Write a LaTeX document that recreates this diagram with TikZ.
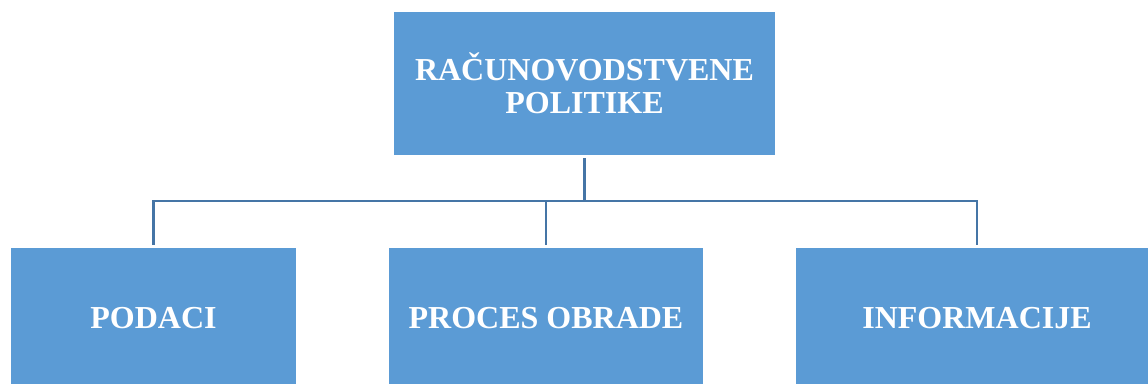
\documentclass[tikz,border=0pt]{standalone}
\usepackage{fontspec}
\setmainfont{Liberation Serif}
\definecolor{boxblue}{HTML}{5B9BD5}
\definecolor{lineblue}{HTML}{4575A6}
\begin{document}
\begin{tikzpicture}[x=1pt,y=-1pt,
  box/.style={fill=boxblue,draw=none,text=white,font=\fontsize{32}{33}\selectfont\bfseries,align=center,inner sep=0pt},
  conn/.style={draw=lineblue,line width=2.2pt}]
\useasboundingbox (0,0) rectangle (1148,383);
\clip (0,0) rectangle (1148,383);
\node[box,minimum width=381pt,minimum height=143pt] (top) at (584.5,83.5) {RAČUNOVODSTVENE\\POLITIKE};
\node[box,minimum width=285pt,minimum height=140pt] (l) at (153.5,318) {PODACI};
\node[box,minimum width=314pt,minimum height=140pt] (m) at (546,318) {PROCES OBRADE};
\node[box,minimum width=362pt,minimum height=140pt] (r) at (977,318) {INFORMACIJE};
\coordinate (bus) at (585,201);
\draw[conn,shorten <=3pt] (top.south) -- (top.south |- bus);
\draw[conn,shorten <=3pt,shorten >=3pt] (l.north) -- (l.north |- bus) -- (r.north |- bus) -- (r.north);
\draw[conn,shorten <=3pt] (m.north) -- (m.north |- bus);
\end{tikzpicture}
\end{document}
